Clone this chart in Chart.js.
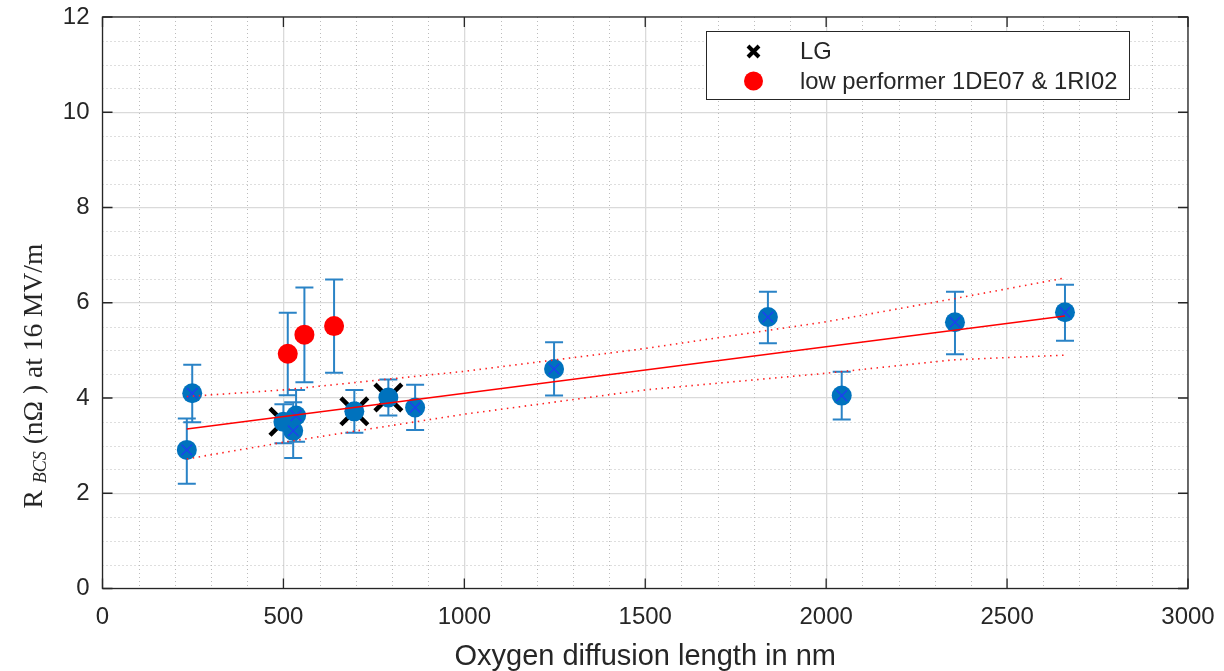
<!DOCTYPE html>
<html>
<head>
<meta charset="utf-8">
<script src="https://cdn.jsdelivr.net/npm/chart.js@4.4.1/dist/chart.umd.min.js"></script>
<style>
  html, body { margin: 0; padding: 0; background: #fff; }
  #wrap { width: 1224px; height: 671px; }
</style>
</head>
<body>
<div id="wrap"><canvas id="chart" width="1224" height="671"></canvas></div>
<script>
// axis ranges / ticks
const xTicks = [0, 500, 1000, 1500, 2000, 2500, 3000];
const yTicks = [0, 2, 4, 6, 8, 10, 12];

// regular samples (blue, with inner x)
const blueX  = [233, 248, 527, 535, 864, 1248, 1839, 2043, 2356, 2660];
const blueY  = [2.91, 4.10, 3.31, 3.63, 3.80, 4.61, 5.70, 4.05, 5.59, 5.80];
const blueLo = [2.20, 3.49, 2.74, 3.08, 3.33, 4.05, 5.15, 3.55, 4.92, 5.20];
const blueHi = [3.57, 4.70, 3.91, 4.17, 4.28, 5.17, 6.23, 4.55, 6.23, 6.38];

// LG samples (blue circle + black cross)
const lgX  = [500, 696, 790];
const lgY  = [3.50, 3.72, 4.01];
const lgLo = [3.05, 3.27, 3.63];
const lgHi = [3.87, 4.17, 4.39];

// low performers 1DE07 & 1RI02
const redX  = [512, 558, 640];
const redY  = [4.93, 5.33, 5.51];
const redLo = [4.06, 4.33, 4.53];
const redHi = [5.79, 6.32, 6.49];

// linear fit + confidence bounds
const fitX = [233, 2660];
const fitY = [3.35, 5.72];
const bandX   = [233, 500, 1000, 1500, 2000, 2350, 2660];
const bandUp  = [4.03, 4.17, 4.56, 5.04, 5.60, 6.08, 6.52];
const bandLow = [2.72, 3.07, 3.66, 4.17, 4.52, 4.80, 4.90];

const INK = '#262626';
const SANS = '"Liberation Sans", Arial, Helvetica, sans-serif';
const SERIF = '"Liberation Serif", "Times New Roman", serif';

const pts = (xs, ys) => xs.map((x, i) => ({ x: x, y: ys[i] }));

// keep label overflow from pushing the plot box around
function fixBox(size) {
  return s => {
    if (s.isHorizontal()) s.height = size; else s.width = size;
    s.paddingTop = 0; s.paddingBottom = 0; s.paddingLeft = 0; s.paddingRight = 0;
  };
}

// dotted minor grid (every 100 nm / 0.5)
const minorGrid = {
  id: 'minorGrid',
  beforeDatasetsDraw(chart) {
    const { ctx, chartArea: a, scales: { x, y } } = chart;
    ctx.save();
    ctx.strokeStyle = '#bcbcbc';
    ctx.lineWidth = 1;
    ctx.setLineDash([1, 3]);
    for (let v = 100; v < 3000; v += 100) {
      if (v % 500 === 0) continue;
      const px = Math.round(x.getPixelForValue(v)) + 0.5;
      ctx.beginPath(); ctx.moveTo(px, a.top); ctx.lineTo(px, a.bottom); ctx.stroke();
    }
    for (let v = 0.5; v < 12; v += 0.5) {
      if (v % 2 === 0) continue;
      const py = Math.round(y.getPixelForValue(v)) + 0.5;
      ctx.beginPath(); ctx.moveTo(a.left, py); ctx.lineTo(a.right, py); ctx.stroke();
    }
    ctx.restore();
  }
};

// vertical error bars under the markers
const errorBars = {
  id: 'errorBars',
  beforeDatasetsDraw(chart) {
    const { ctx, scales: { x, y } } = chart;
    ctx.save();
    ctx.strokeStyle = '#2a83c6';
    ctx.lineWidth = 2;
    chart.data.datasets.forEach(ds => {
      if (!ds.errLo) return;
      ds.data.forEach((p, i) => {
        const px = x.getPixelForValue(p.x);
        const lo = y.getPixelForValue(ds.errLo[i]);
        const hi = y.getPixelForValue(ds.errHi[i]);
        ctx.beginPath();
        ctx.moveTo(px, lo); ctx.lineTo(px, hi);
        ctx.moveTo(px - 9, lo); ctx.lineTo(px + 9, lo);
        ctx.moveTo(px - 9, hi); ctx.lineTo(px + 9, hi);
        ctx.stroke();
      });
    });
    ctx.restore();
  }
};

// box + inward ticks, legend, y title
const frame = {
  id: 'frame',
  afterDraw(chart) {
    const { ctx, chartArea: a, scales: { x, y } } = chart;
    ctx.save();
    ctx.strokeStyle = INK;
    ctx.lineWidth = 1.3;
    ctx.strokeRect(a.left, a.top, a.right - a.left, a.bottom - a.top);
    ctx.beginPath();
    xTicks.forEach(v => {
      const px = x.getPixelForValue(v);
      ctx.moveTo(px, a.bottom); ctx.lineTo(px, a.bottom - 10);
      ctx.moveTo(px, a.top); ctx.lineTo(px, a.top + 10);
    });
    yTicks.forEach(v => {
      const py = y.getPixelForValue(v);
      ctx.moveTo(a.left, py); ctx.lineTo(a.left + 10, py);
      ctx.moveTo(a.right, py); ctx.lineTo(a.right - 10, py);
    });
    ctx.stroke();

    // legend
    const lx = 706, ly = 31, lw = 423, lh = 68;
    ctx.fillStyle = '#fff';
    ctx.fillRect(lx, ly, lw, lh);
    ctx.lineWidth = 1;
    ctx.strokeStyle = INK;
    ctx.strokeRect(lx + 0.5, ly + 0.5, lw, lh);
    ctx.strokeStyle = '#000';
    ctx.lineWidth = 4;
    ctx.beginPath();
    ctx.moveTo(748, 46); ctx.lineTo(759, 57);
    ctx.moveTo(759, 46); ctx.lineTo(748, 57);
    ctx.stroke();
    ctx.fillStyle = '#ff0000';
    ctx.beginPath(); ctx.arc(753.5, 81, 9.5, 0, Math.PI * 2); ctx.fill();
    ctx.fillStyle = INK;
    ctx.font = '23.8px ' + SANS;
    ctx.textBaseline = 'middle';
    ctx.textAlign = 'left';
    ctx.fillText('LG', 800, 52);
    ctx.fillText('low performer 1DE07 & 1RI02', 800, 82);

    // y axis title: R_BCS (nΩ ) at 16 MV/m
    const parts = [
      { t: 'R ', f: '27.5px ' + SERIF, dv: 0 },
      { t: 'BCS', f: 'italic 18px ' + SERIF, dv: 4 },
      { t: ' (n\u03A9 ) at 16 MV/m', f: '27.5px ' + SERIF, dv: 0 },
    ];
    let total = 0;
    parts.forEach(p => { ctx.font = p.f; p.w = ctx.measureText(p.t).width; total += p.w; });
    ctx.translate(42, 376);
    ctx.rotate(-Math.PI / 2);
    ctx.textBaseline = 'alphabetic';
    let u = -total / 2;
    parts.forEach(p => { ctx.font = p.f; ctx.fillText(p.t, u, p.dv); u += p.w; });
    ctx.restore();
  }
};

new Chart(document.getElementById('chart'), {
  type: 'scatter',
  data: {
    datasets: [
      { label: 'fit', data: pts(fitX, fitY), showLine: true, borderColor: '#ff0000', borderWidth: 1.5,
        pointRadius: 0, order: 1 },
      { label: 'upper', data: pts(bandX, bandUp), showLine: true, borderColor: '#ff2020', borderWidth: 1.6,
        borderDash: [1.5, 4.5], pointRadius: 0, order: 1 },
      { label: 'lower', data: pts(bandX, bandLow), showLine: true, borderColor: '#ff2020', borderWidth: 1.6,
        borderDash: [1.5, 4.5], pointRadius: 0, order: 1 },
      { label: 'low performer 1DE07 & 1RI02', data: pts(redX, redY), errLo: redLo, errHi: redHi,
        pointStyle: 'circle', pointRadius: 10, backgroundColor: '#ff0000', borderWidth: 0, order: 2 },
      { label: 'inner', data: pts(blueX, blueY), pointStyle: 'crossRot', pointRadius: 7.5,
        borderColor: '#1e3ff0', pointBorderWidth: 1.3, order: 3 },
      { label: 'samples', data: pts(blueX.concat(lgX), blueY.concat(lgY)),
        errLo: blueLo.concat(lgLo), errHi: blueHi.concat(lgHi),
        pointStyle: 'circle', pointRadius: 10, backgroundColor: '#0072bd', borderWidth: 0, order: 4 },
      { label: 'LG', data: pts(lgX, lgY), pointStyle: 'crossRot', pointRadius: 19,
        borderColor: '#000', pointBorderWidth: 4.5, order: 5 },
    ]
  },
  options: {
    responsive: false,
    devicePixelRatio: 1,
    animation: false,
    events: [],
    layout: { autoPadding: false, padding: { top: 17, right: 36, left: 0, bottom: 0 } },
    plugins: { legend: { display: false }, tooltip: { enabled: false } },
    scales: {
      x: {
        type: 'linear', min: 0, max: 3000,
        afterFit: fixBox(82.5),
        ticks: { stepSize: 500, padding: 14, color: INK, font: { family: SANS, size: 24 }, maxRotation: 0,
          callback: v => String(v) },
        grid: { color: '#dadada', lineWidth: 1.3, drawTicks: false },
        border: { display: false },
        title: { display: true, text: 'Oxygen diffusion length in nm', color: INK,
          font: { family: SANS, size: 29, lineHeight: 1.0 }, padding: { top: 0, bottom: 0 } }
      },
      y: {
        type: 'linear', min: 0, max: 12,
        afterFit: fixBox(102.5),
        ticks: { stepSize: 2, padding: 13, color: INK, font: { family: SANS, size: 24 },
          callback: v => String(v) },
        grid: { color: '#dadada', lineWidth: 1.3, drawTicks: false },
        border: { display: false }
      }
    }
  },
  plugins: [minorGrid, errorBars, frame]
});
</script>
</body>
</html>
